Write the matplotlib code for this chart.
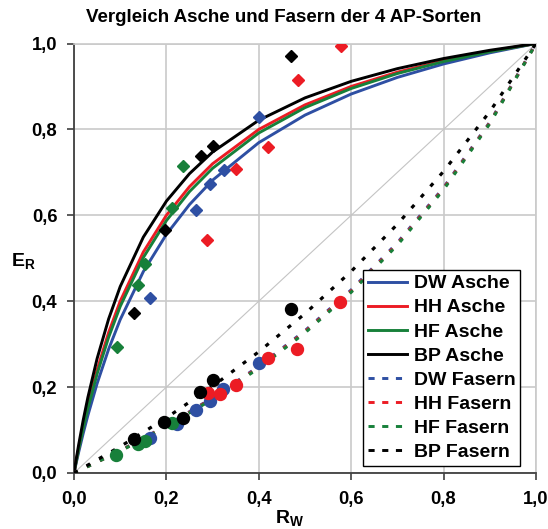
import matplotlib
matplotlib.use("Agg")
import matplotlib.pyplot as plt
from matplotlib.lines import Line2D

plt.rcParams["font.family"] = ["Liberation Sans", "DejaVu Sans"]
plt.rcParams["font.weight"] = "bold"
plt.rcParams["mathtext.fontset"] = "custom"
plt.rcParams["mathtext.rm"] = "Liberation Sans:bold"
plt.rcParams["mathtext.it"] = "Liberation Sans:bold"
plt.rcParams["mathtext.bf"] = "Liberation Sans:bold"

# ---- data -------------------------------------------------------------
title = "Vergleich Asche und Fasern der 4 AP-Sorten"
sorts = ["DW", "HH", "HF", "BP"]
colors = ["#2E4FA3", "#EC1C24", "#17803A", "#000000"]

tick_vals = [0.0, 0.2, 0.4, 0.6, 0.8, 1.0]
tick_labels = ["0,0", "0,2", "0,4", "0,6", "0,8", "1,0"]

# ash model curves (E_R over R_W)
ash_r = [0, 0.005, 0.01, 0.02, 0.03, 0.05, 0.075, 0.1, 0.15, 0.2, 0.25,
         0.3, 0.4, 0.5, 0.6, 0.7, 0.8, 0.9, 1.0]
ash_dw = [0, 0.0245, 0.0481, 0.0926, 0.1339, 0.2083, 0.2885, 0.3571, 0.4688,
          0.5556, 0.625, 0.6818, 0.7692, 0.8333, 0.8824, 0.9211, 0.9524, 0.9783, 1.0]
ash_hh = [0, 0.0293, 0.0571, 0.1091, 0.1565, 0.24, 0.3273, 0.4, 0.5143,
          0.6, 0.6667, 0.72, 0.8, 0.8571, 0.9, 0.9333, 0.96, 0.9818, 1.0]
ash_hf = [0, 0.0278, 0.0544, 0.1042, 0.1499, 0.2308, 0.3161, 0.3878, 0.5015,
          0.5876, 0.6552, 0.7095, 0.7917, 0.8507, 0.8953, 0.9301, 0.958, 0.9809, 1.0]
ash_bp = [0, 0.0335, 0.0652, 0.1234, 0.1759, 0.2664, 0.3588, 0.434, 0.5491,
          0.633, 0.697, 0.7473, 0.8214, 0.8734, 0.9119, 0.9415, 0.965, 0.9842, 1.0]

# fibre model curves
fib_r = [0, 0.1, 0.2, 0.3, 0.4, 0.5, 0.6, 0.7, 0.8, 0.9, 1.0]
fib_dw = [0, 0.0521, 0.1101, 0.175, 0.2481, 0.3311, 0.4261, 0.536, 0.6644, 0.8167, 1.0]
fib_hh = [0, 0.0516, 0.1091, 0.1736, 0.2462, 0.3289, 0.4236, 0.5334, 0.6622, 0.8152, 1.0]
fib_hf = [0, 0.0511, 0.1081, 0.1721, 0.2443, 0.3266, 0.4211, 0.5309, 0.6599, 0.8136, 1.0]
fib_bp = [0, 0.0615, 0.1285, 0.2018, 0.2823, 0.3711, 0.4695, 0.5792, 0.7024, 0.8415, 1.0]

# measured ash values (diamonds)
ash_pts_dw_x = [0.164, 0.264, 0.295, 0.324, 0.401]
ash_pts_dw_y = [0.408, 0.612, 0.672, 0.705, 0.828]
ash_pts_hh_x = [0.288, 0.350, 0.420, 0.485, 0.577]
ash_pts_hh_y = [0.543, 0.707, 0.758, 0.915, 0.995]
ash_pts_hf_x = [0.092, 0.139, 0.153, 0.212, 0.237]
ash_pts_hf_y = [0.293, 0.437, 0.487, 0.618, 0.715]
ash_pts_bp_x = [0.130, 0.197, 0.274, 0.300, 0.470]
ash_pts_bp_y = [0.373, 0.566, 0.738, 0.761, 0.971]

# measured fibre values (circles)
fib_pts_dw_x = [0.165, 0.222, 0.264, 0.294, 0.323, 0.401]
fib_pts_dw_y = [0.082, 0.115, 0.147, 0.167, 0.195, 0.257]
fib_pts_hh_x = [0.289, 0.316, 0.350, 0.420, 0.483, 0.576]
fib_pts_hh_y = [0.186, 0.185, 0.206, 0.267, 0.289, 0.397]
fib_pts_hf_x = [0.090, 0.138, 0.153, 0.213]
fib_pts_hf_y = [0.043, 0.068, 0.075, 0.116]
fib_pts_bp_x = [0.130, 0.195, 0.237, 0.273, 0.300, 0.470]
fib_pts_bp_y = [0.078, 0.118, 0.129, 0.189, 0.216, 0.381]

# ---- figure -----------------------------------------------------------
W, H = 548, 529
fig = plt.figure(figsize=(W / 100, H / 100), dpi=100)
ax = fig.add_axes([74 / W, 1 - 473 / H, 462 / W, 429.5 / H])
ax.set_xlim(0, 1)
ax.set_ylim(0, 1)

grid_c = "#cacaca"
ax.set_xticks(tick_vals)
ax.set_yticks(tick_vals)
ax.set_xticklabels(tick_labels)
ax.set_yticklabels(tick_labels)
ax.grid(True, color=grid_c, lw=1.2, zorder=0)
ax.set_axisbelow(True)
for s in ("top", "right"):
    ax.spines[s].set_color(grid_c)
    ax.spines[s].set_linewidth(1.2)
for s in ("left", "bottom"):
    ax.spines[s].set_color("#404040")
    ax.spines[s].set_linewidth(1.3)
ax.tick_params(axis="both", direction="out", length=5, width=1.2,
               color="#404040", labelsize=13.2)
ax.tick_params(axis="x", pad=8)
ax.tick_params(axis="y", pad=7)

# diagonal reference
ax.plot([0, 1], [0, 1], color="#c4c4c4", lw=0.8, zorder=1)

ash_curves = [ash_dw, ash_hh, ash_hf, ash_bp]
fib_curves = [fib_dw, fib_hh, fib_hf, fib_bp]
lw = 2.1
for yv, c in zip(ash_curves, colors):
    ax.plot(ash_r, yv, color=c, lw=lw, zorder=3, solid_capstyle="butt")
for yv, c in zip(fib_curves, colors):
    ax.plot(fib_r, yv, color=c, lw=lw + 0.2, dashes=(1.3, 3.2), zorder=3)

ash_pts = [(ash_pts_dw_x, ash_pts_dw_y), (ash_pts_hh_x, ash_pts_hh_y),
           (ash_pts_hf_x, ash_pts_hf_y), (ash_pts_bp_x, ash_pts_bp_y)]
fib_pts = [(fib_pts_dw_x, fib_pts_dw_y), (fib_pts_hh_x, fib_pts_hh_y),
           (fib_pts_hf_x, fib_pts_hf_y), (fib_pts_bp_x, fib_pts_bp_y)]
for (xs, ys), c in zip(ash_pts, colors):
    ax.plot(xs, ys, ls="none", marker="D", ms=6.2, color=c, mec=c, zorder=4)
for (xs, ys), c in zip(fib_pts, colors):
    ax.plot(xs, ys, ls="none", marker="o", ms=8.6, color=c, mec=c, zorder=4)

# legend
handles, labels = [], []
for name, c in zip(sorts, colors):
    handles.append(Line2D([], [], color=c, lw=lw))
    labels.append(f"{name} Asche")
for name, c in zip(sorts, colors):
    handles.append(Line2D([], [], color=c, lw=lw, dashes=(2.1, 2.6)))
    labels.append(f"{name} Fasern")
leg = fig.legend(handles, labels, loc="upper left",
                 bbox_to_anchor=(363 / W, 1 - 270 / H),
                 bbox_transform=fig.transFigure, borderaxespad=0,
                 fontsize=14, handlelength=2.0, handletextpad=0.35,
                 labelspacing=0.33, borderpad=0.25, fancybox=False,
                 framealpha=1, edgecolor="black")
leg.get_frame().set_linewidth(1.0)

# texts
fig.text(284 / W, 1 - 18 / H, title, ha="center", va="center",
         fontsize=13.5, fontweight="bold")
fig.text(11 / W, 1 - 261 / H, r"$\mathrm{E_R}$", ha="left", va="center",
         fontsize=14)
fig.text(290 / W, 1 - 518 / H, r"$\mathrm{R_W}$", ha="center", va="center",
         fontsize=14)

fig.savefig("out.png", dpi=100)
